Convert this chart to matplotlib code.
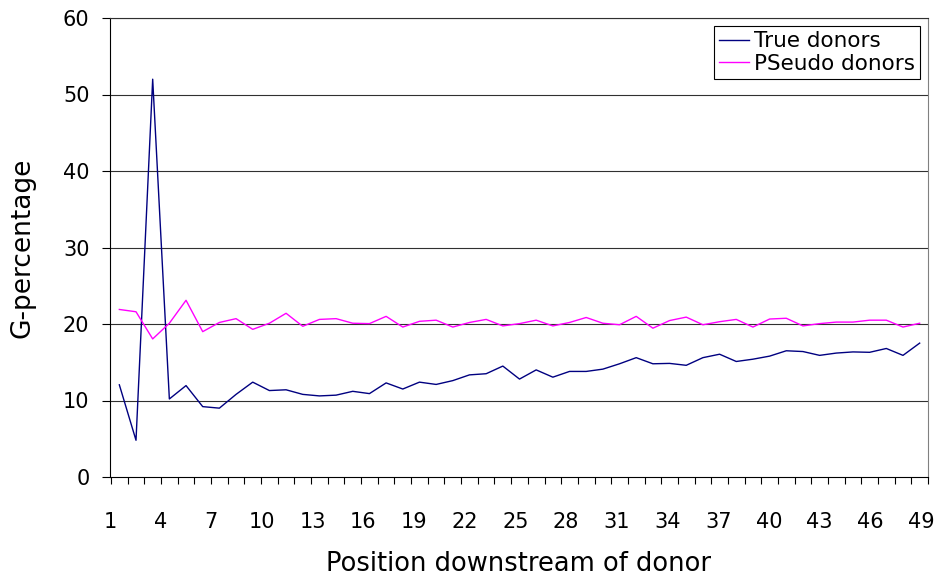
import matplotlib.pyplot as plt
import numpy as np
from matplotlib.ticker import FixedLocator

plt.rcParams['font.family'] = ['DejaVu Sans']

positions = np.arange(1, 50)
true_donors = [
    12.05, 4.8, 52.0, 10.2, 11.95, 9.2, 9.0, 10.8, 12.4, 11.3,
    11.4, 10.8, 10.6, 10.7, 11.2, 10.9, 12.3, 11.5, 12.4, 12.1,
    12.6, 13.35, 13.5, 14.5, 12.8, 14.0, 13.05, 13.8, 13.8, 14.1,
    14.8, 15.6, 14.8, 14.85, 14.6, 15.6, 16.05, 15.1, 15.4, 15.8,
    16.5, 16.4, 15.9, 16.2, 16.35, 16.3, 16.8, 15.9, 17.5,
]
pseudo_donors = [
    21.9, 21.6, 18.05, 20.1, 23.1, 19.0, 20.2, 20.7, 19.3, 20.1,
    21.4, 19.7, 20.6, 20.7, 20.1, 20.05, 21.0, 19.6, 20.35, 20.5,
    19.6, 20.2, 20.6, 19.75, 20.05, 20.5, 19.75, 20.2, 20.85, 20.1,
    19.9, 21.0, 19.45, 20.45, 20.9, 19.9, 20.3, 20.6, 19.6, 20.65,
    20.75, 19.75, 20.05, 20.25, 20.25, 20.5, 20.5, 19.6, 20.1,
]
x_labels = list(range(1, 50, 3))
y_ticks = [0, 10, 20, 30, 40, 50, 60]

fig = plt.figure(figsize=(9.35, 5.83), dpi=100)
ax = fig.add_axes([110 / 935, 1 - 477 / 583, 818 / 935, 459 / 583])

grid_col = '#303030'
for y in y_ticks[1:]:
    ax.axhline(y, color=grid_col, lw=0.8, zorder=1)

ax.plot(positions, true_donors, color='#000080', lw=1.0, label='True donors', zorder=3)
ax.plot(positions, pseudo_donors, color='#ff00ff', lw=1.0, label='PSeudo donors', zorder=3)

ax.set_xlim(0.5, 49.5)
ax.set_ylim(0, 60)
ax.set_yticks(y_ticks)

# Excel spreads the category labels slightly wider than the categories
lab = np.array(x_labels, dtype=float)
ax.set_xticks(0.44 + (lab - 1) * (48.64 / 48))
ax.set_xticklabels([str(v) for v in x_labels])
ax.xaxis.set_minor_locator(FixedLocator(np.arange(0.5, 50, 1)))
ax.tick_params(axis='x', which='major', length=0, pad=25, labelsize=15)
ax.tick_params(axis='x', which='minor', length=5, width=0.8, direction='out')
ax.tick_params(axis='y', length=5.8, width=0.8, direction='out', pad=9, labelsize=15)

ax.spines['top'].set_color(grid_col)
ax.spines['right'].set_color('#808080')
for side in ['left', 'bottom']:
    ax.spines[side].set_color('black')

ax.set_xlabel('Position downstream of donor', fontsize=18.5, labelpad=14)
ax.set_ylabel('G-percentage', fontsize=19, labelpad=20)

leg = ax.legend(loc='upper right', bbox_to_anchor=(0.9902, 0.9826), fontsize=15.5,
                frameon=True, fancybox=False, edgecolor='black', framealpha=1,
                handlelength=1.4, handletextpad=0.2, borderpad=0.25,
                labelspacing=0.1, borderaxespad=0)
leg.get_frame().set_linewidth(0.8)

fig.savefig('out.png', dpi=100)
